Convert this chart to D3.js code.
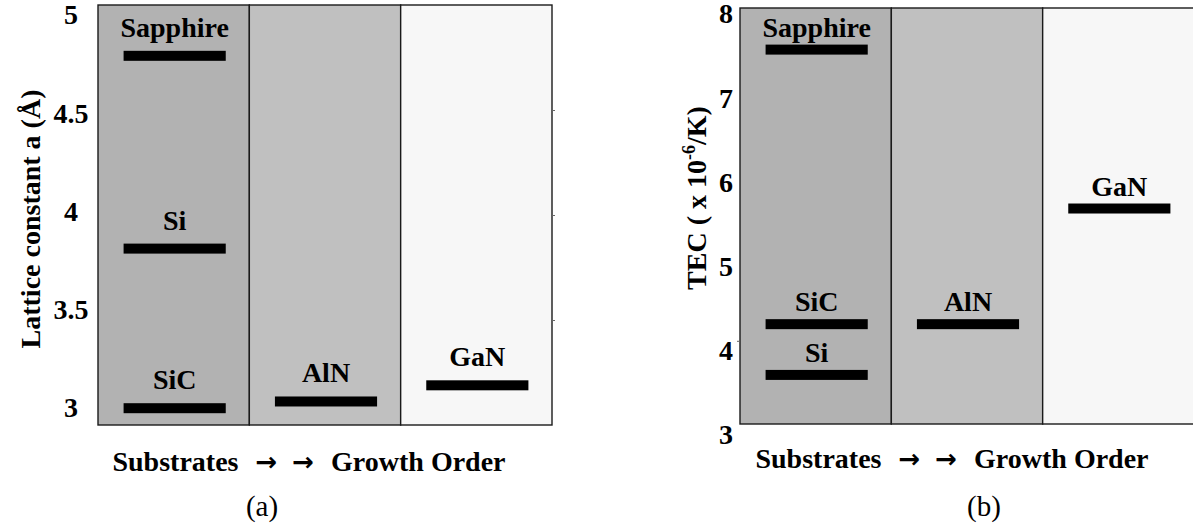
<!DOCTYPE html>
<html>
<head>
<meta charset="utf-8">
<script src="https://cdn.jsdelivr.net/npm/d3@7"></script>
</head>
<body style="margin:0">
<svg id="chart" width="1193" height="529" style="display:block"></svg>
<script>
// Growth stages shown as shaded columns, left to right
const stages = ["Substrate", "Buffer", "Epilayer"];
const stageFills = ["#b2b2b2", "#c0c0c0", "#f7f7f7"];

// (a) in-plane lattice constant a, in angstrom
const latticeMaterials = ["Sapphire", "Si", "SiC", "AlN", "GaN"];
const latticeStages = ["Substrate", "Substrate", "Substrate", "Buffer", "Epilayer"];
const latticeValues = [4.758, 3.84, 3.08, 3.112, 3.189];
const latticeTicks = [3, 3.5, 4, 4.5, 5];
const latticeTickLabels = ["3", "3.5", "4", "4.5", "5"];

// (b) thermal expansion coefficient, x 10^-6 / K
const tecMaterials = ["Sapphire", "SiC", "Si", "AlN", "GaN"];
const tecStages = ["Substrate", "Substrate", "Substrate", "Buffer", "Epilayer"];
const tecValues = [7.5, 4.2, 3.59, 4.2, 5.59];
const tecTicks = [3, 4, 5, 6, 7, 8];
const tecTickLabels = ["3", "4", "5", "6", "7", "8"];

const SERIF = "\"Liberation Serif\"";
const ARROW_FONT = "\"DejaVu Sans\"";
const svg = d3.select("#chart");

function styleText(sel, size, bold) {
  return sel.style("font-family", SERIF)
    .style("font-size", size + "px")
    .style("font-weight", bold ? "bold" : "normal")
    .attr("fill", "#000");
}

function drawPanel(cfg) {
  const g = svg.append("g");
  const x = d3.scaleBand().domain(stages).range([cfg.left, cfg.right]).padding(0);
  const y = d3.scaleLinear().domain(cfg.domain).range([cfg.bottom, cfg.top]);
  // tick labels sit on a slightly tighter spacing than the frame
  const yLab = d3.scaleLinear().domain(cfg.domain).range(cfg.labelRange);

  // shaded stage columns
  g.selectAll("rect.stage").data(stages).join("rect")
    .attr("class", "stage")
    .attr("x", d => x(d))
    .attr("y", cfg.top)
    .attr("width", x.bandwidth())
    .attr("height", cfg.bottom - cfg.top)
    .attr("fill", (d, i) => stageFills[i])
    .attr("stroke", "#1a1a1a")
    .attr("stroke-width", 1.4);

  // small ticks on the frame
  if (cfg.frameTicks) {
    const fa = (cfg.frameTickSide === "right" ? d3.axisRight(y) : d3.axisLeft(y))
      .tickValues(cfg.frameTicks).tickSize(3).tickFormat("");
    const fg = g.append("g")
      .attr("transform", `translate(${cfg.frameTickSide === "right" ? x.range()[1] : cfg.left},0)`)
      .call(fa);
    fg.select(".domain").remove();
    fg.selectAll("line").attr("stroke", "#666");
  }

  // y tick labels
  const ax = d3.axisLeft(yLab).tickValues(cfg.ticks)
    .tickFormat((d, i) => cfg.tickLabels[i]).tickSize(0).tickPadding(0);
  const ag = g.append("g").attr("transform", `translate(${cfg.tickX},0)`).call(ax);
  ag.attr("font-family", null).attr("font-size", null);
  ag.select(".domain").remove();
  styleText(ag.selectAll("text").attr("x", 0).attr("text-anchor", "middle"), 28, true);

  // material levels
  const barW = x.bandwidth() * 0.675;
  const rows = cfg.materials.map((m, i) => ({ m, s: cfg.stagesOf[i], v: cfg.values[i] }));
  g.selectAll("rect.level").data(rows).join("rect")
    .attr("class", "level")
    .attr("x", d => x(d.s) + x.bandwidth() / 2 - barW / 2 + 1)
    .attr("y", d => y(d.v) - 5)
    .attr("width", barW)
    .attr("height", 10)
    .attr("fill", "#000");

  styleText(g.selectAll("text.mat").data(rows).join("text")
    .attr("class", "mat")
    .attr("x", d => x(d.s) + x.bandwidth() / 2 + 1)
    .attr("y", d => y(d.v) - cfg.labelGap)
    .attr("text-anchor", "middle")
    .text(d => d.m), 28, true);

  // y axis title
  const yt = styleText(g.append("text")
    .attr("transform", `translate(${cfg.yTitle.x},${cfg.yTitle.y}) rotate(-90)`)
    .attr("text-anchor", "middle"), 28, true);
  cfg.yTitle.parts.forEach(p => {
    const t = yt.append("tspan").text(p.text);
    if (p.sup) t.attr("dy", -11).style("font-size", "18px");
    if (p.after) t.attr("dy", 11);
  });

  // x axis title: substrates, arrows, growth order
  const xt = styleText(g.append("text")
    .attr("x", cfg.xTitle.x)
    .attr("y", cfg.xTitle.y)
    .attr("text-anchor", "middle"), 28, true);
  xt.append("tspan").text("Substrates");
  xt.append("tspan").attr("dx", 17).style("font-family", ARROW_FONT)
    .style("font-size", "26px").text("\u2192");
  xt.append("tspan").attr("dx", 15).style("font-family", ARROW_FONT)
    .style("font-size", "26px").text("\u2192");
  xt.append("tspan").attr("dx", 17).text("Growth Order");

  // panel caption
  styleText(g.append("text")
    .attr("x", cfg.caption.x)
    .attr("y", cfg.caption.y)
    .attr("text-anchor", "middle")
    .text(cfg.caption.text), 29, false);
}

drawPanel({
  left: 98, right: 552, top: 5, bottom: 425,
  domain: [3, 5], labelRange: [408, 15], tickX: 71,
  ticks: latticeTicks, tickLabels: latticeTickLabels,
  frameTicks: [3.5, 4, 4.5], frameTickSide: "right",
  materials: latticeMaterials, stagesOf: latticeStages, values: latticeValues,
  labelGap: 19,
  yTitle: { x: 40, y: 219, parts: [{ text: "Lattice constant a (\u00C5)" }] },
  xTitle: { x: 309, y: 471 },
  caption: { x: 262, y: 516, text: "(a)" }
});

drawPanel({
  left: 740, right: 1194, top: 8, bottom: 424,
  domain: [3, 8], labelRange: [435, 14], tickX: 726,
  ticks: tecTicks, tickLabels: tecTickLabels,
  frameTicks: [4], frameTickSide: "left",
  materials: tecMaterials, stagesOf: tecStages, values: tecValues,
  labelGap: 13,
  yTitle: { x: 706, y: 198, parts: [
    { text: "TEC ( x 10" }, { text: "-6", sup: true }, { text: "/K)", after: true }
  ] },
  xTitle: { x: 952, y: 468 },
  caption: { x: 984, y: 516, text: "(b)" }
});
</script>
</body>
</html>
